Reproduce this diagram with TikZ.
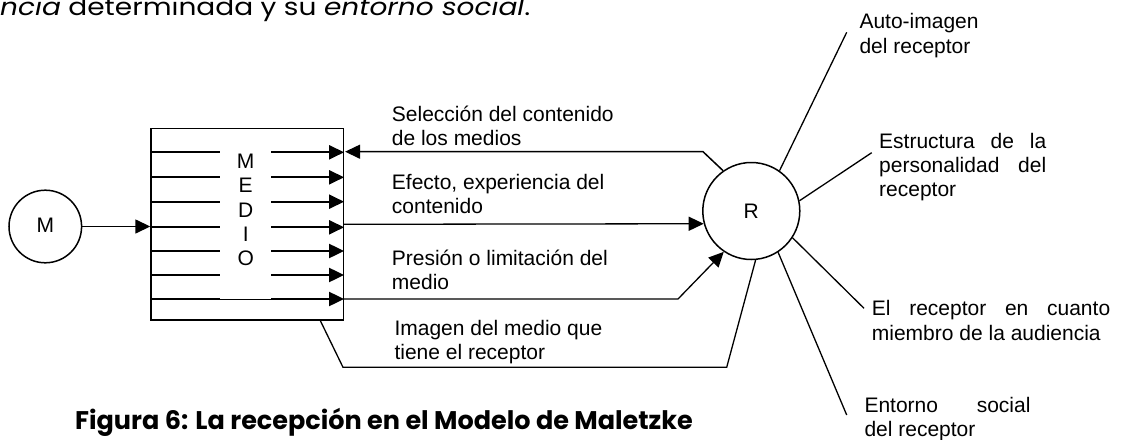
\documentclass[tikz,border=0pt]{standalone}
\usepackage{fontspec}
\setmainfont{Liberation Sans}
\newfontfamily\gothic{Poppins}
\usetikzlibrary{arrows.meta}
\begin{document}
\begin{tikzpicture}[x=1pt,y=-1pt,
  lbl/.style={inner sep=0pt, anchor=base west, font=\fontsize{21}{24}\selectfont},
  thinl/.style={line width=1.3pt},
  rowl/.style={line width=2pt},
  tip/.style={-{Triangle[length=15pt,width=14pt]}},
  circ/.style={circle, draw, line width=1.5pt, inner sep=0pt, font=\fontsize{21}{24}\selectfont},
]
\useasboundingbox (0,0) rectangle (1121,439);
% top running text
\node[anchor=base west, inner sep=0pt, font=\gothic\fontsize{24}{28}\selectfont] (toptext) at (0,15.5) {\resizebox{530pt}{\height}{\textit{ncia} determinada y su \textit{entorno social}.}};
% medio box
\node[draw, line width=1.5pt, minimum width=192.3pt, minimum height=191.7pt, inner sep=0pt] (box) at (247.2,224.15) {};
\foreach \y in {152.3,177.3,201.7,227.3,251,275,299}{
  \path (0,\y) coordinate (ry);
  \draw[rowl] (box.west |- ry) -- (220,\y);
  \draw[rowl, tip] (271,\y) -- (box.east |- ry);
}
\draw[line width=0.8pt] (220,299.3) -- (271,299.3);
\foreach \l [count=\k from 0] in {M,E,D,I,O}{
  \node[lbl, anchor=base] (medio\k) at (245.7,168.3+24.4*\k) {\l};
}
% circles
\node[circ, minimum size=72.6pt] (M) at (45.3,226.5) {\raisebox{3pt}{M}};
\node[circ, minimum size=97pt] (R) at (751.3,211) {R};
\draw[line width=1.5pt, tip] (M.east) -- (box.west |- M.east);
% connectors between box and R
\path (0,151.7) coordinate (ysel) (0,224.3) coordinate (yeff) (0,299) coordinate (ypre);
\coordinate (selk) at (703,151.7);
\draw[line width=1.5pt, tip] (R.125.8) -- (selk) -- ([xshift=1pt]box.east |- ysel);
\draw[thinl, tip] (box.east |- yeff) -- (R.195.5);
\coordinate (prek) at (678,299);
\draw[thinl, tip] (box.east |- ypre) -- (prek) -- (R.236.6);
\coordinate (ima0) at (320,320);
\coordinate (ima1) at (343,367.3);
\coordinate (ima2) at (726.7,367.3);
\draw[thinl] (ima0) -- (ima1) -- (ima2) -- (R.-85.8);
% receptor factors
\coordinate (fauto) at (846.7,32.3);
\coordinate (festr) at (871.7,152.7);
\coordinate (faud) at (864,308.3);
\coordinate (fent) at (846.7,415);
\draw[thinl] (R.55.5) -- (fauto);
\draw[thinl] (R.12.9) -- (festr);
\draw[thinl] (R.-33) -- (faud);
\draw[thinl] (R.-57.5) -- (fent);
% labels
\node[lbl] (lsel) at (391.7,121.7) {\vtop{\hbox{Selección del contenido}\hbox{de los medios}}};
\node[lbl] (leff) at (391.7,189.3) {\vtop{\hbox{Efecto, experiencia del}\hbox{contenido}}};
\node[lbl] (lpre) at (391.7,265.7) {\vtop{\hbox{Presión o limitación del}\hbox{medio}}};
\node[lbl] (lima) at (394.3,335) {\vtop{\hbox{Imagen del medio que}\hbox{tiene el receptor}}};
\node[lbl] (lauto) at (859.3,28.3) {\vtop{\baselineskip=25pt\hbox{Auto-imagen}\hbox{del receptor}}};
\node[lbl] (lestr) at (879,148.3) {\vtop{\hbox to 167pt{Estructura\hfill de\hfill la}\hbox to 167pt{personalidad\hfill del}\hbox{receptor}}};
\node[lbl] (laud) at (871.7,315) {\vtop{\baselineskip=25pt\hbox to 238.3pt{El\hfill receptor\hfill en\hfill cuanto}\hbox{miembro de la audiencia}}};
\node[lbl] (lent) at (864.3,412.5) {\vtop{\hbox to 166pt{Entorno\hfill social}\hbox{del receptor}}};
% caption
\node[anchor=base west, inner sep=0pt, font=\gothic\bfseries\fontsize{25.5}{30}\selectfont] (caption) at (75,429) {Figura 6: La recepción en el Modelo de Maletzke};
\end{tikzpicture}
\end{document}
